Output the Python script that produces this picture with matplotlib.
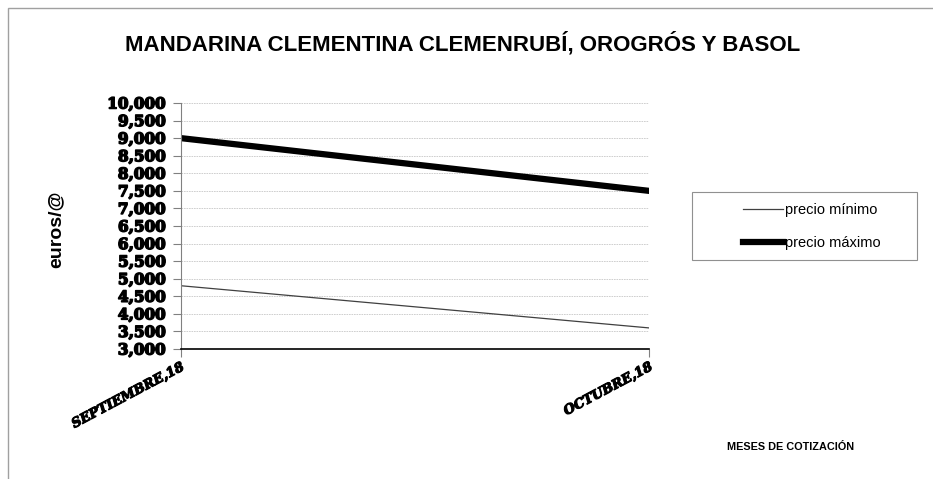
import matplotlib
matplotlib.use('Agg')
import matplotlib.pyplot as plt
from matplotlib.ticker import FuncFormatter, MultipleLocator
from matplotlib.patches import Rectangle
import matplotlib.patheffects as pe

meses = ["SEPTIEMBRE,18", "OCTUBRE,18"]
precio_minimo = [4.80, 3.60]
precio_maximo = [9.00, 7.50]

fig = plt.figure(figsize=(9.33, 4.79), dpi=100)
# chart area border (only left and top visible)
fig.patches.append(Rectangle((8/933, -0.1), 1.2, 1 - 8/479 + 0.1, transform=fig.transFigure,
                             fill=False, edgecolor='#a0a0a0', linewidth=1))
ax = fig.add_axes([181/933, 1 - 349/479, (649 - 181)/933, (349 - 103)/479])

x = list(range(len(meses)))
ax.plot(x, precio_minimo, color='#404040', linewidth=0.9, label='precio mínimo')
ax.plot(x, precio_maximo, color='black', linewidth=4.5, label='precio máximo')

ax.set_xlim(0, 1)
ax.set_ylim(3, 10)
ax.yaxis.set_major_locator(MultipleLocator(0.5))
ax.yaxis.set_major_formatter(FuncFormatter(lambda v, p: ("%.3f" % v).replace('.', ',')))
ax.grid(axis='y', color='#c8c8c8', linestyle=(0, (2, 1)), linewidth=0.6)
ax.set_axisbelow(True)

for s in ['top', 'right']:
    ax.spines[s].set_visible(False)
ax.spines['left'].set_color('#808080')
ax.spines['bottom'].set_color('black')
ax.spines['bottom'].set_linewidth(1.2)
ax.tick_params(axis='y', color='#808080', length=6, pad=5)
ax.tick_params(axis='x', color='#808080', length=6, pad=2)

heavy = [pe.withStroke(linewidth=1.1, foreground='black')]
for lab in ax.get_yticklabels():
    lab.set_fontfamily('DejaVu Serif')
    lab.set_fontweight('bold')
    lab.set_fontsize(11)
    lab.set_path_effects(heavy)

ax.set_xticks(x)
ax.set_xticklabels(meses, rotation=28, ha='right', rotation_mode='anchor',
                   fontfamily='DejaVu Serif', fontweight='bold', fontstyle='italic', fontsize=9.5)
for lab in ax.get_xticklabels():
    lab.set_path_effects([pe.withStroke(linewidth=0.8, foreground='black')])

fig.text(463/933, 1 - 51/479, 'MANDARINA CLEMENTINA CLEMENRUBÍ, OROGRÓS Y BASOL',
         ha='center', va='baseline', fontsize=16, fontweight='bold', family='Liberation Sans')
fig.text(56/933, 1 - 229/479, 'euros/@', rotation=90, ha='center', va='center',
         fontsize=14, fontweight='bold', family='Liberation Sans')
fig.text(791/933, 1 - 447/479, 'MESES DE COTIZACIÓN', ha='center', va='center',
         fontsize=7.8, fontweight='bold', family='Liberation Sans')

# legend with its own box
fig.patches.append(Rectangle((692/933, 1 - 260/479), (917 - 692)/933, (260 - 192)/479,
                             transform=fig.transFigure, fill=False, edgecolor='#909090', linewidth=0.8))
fig.legend(loc='upper left', bbox_to_anchor=(743/933, 1 - 203/479), frameon=False,
           prop={'family': 'Liberation Sans', 'size': 10.5}, borderpad=0, borderaxespad=0,
           handlelength=2.75, handletextpad=0.1, labelspacing=1.3)

plt.savefig('out.png', dpi=100)
